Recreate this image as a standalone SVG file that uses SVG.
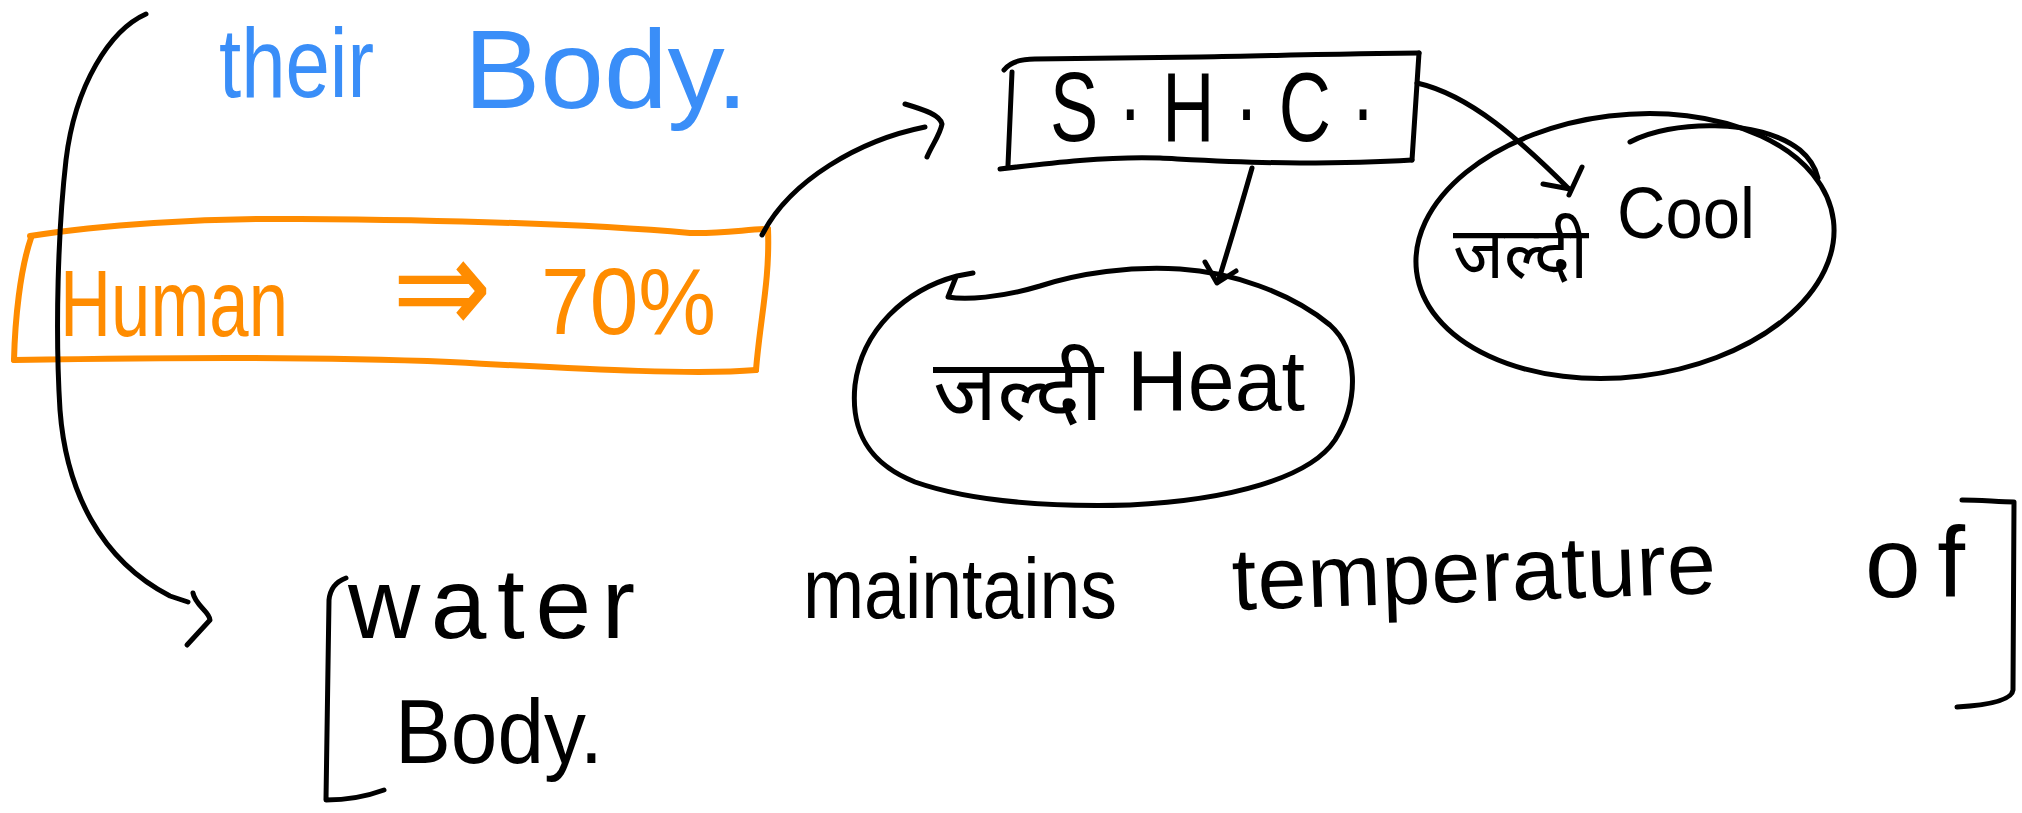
<svg xmlns="http://www.w3.org/2000/svg" width="2022" height="813" viewBox="0 0 2022 813">
  <style>
    .ink { fill: none; stroke: #000; stroke-width: 5; stroke-linecap: round; stroke-linejoin: round; }
    .ink-o { fill: none; stroke: #FF8C00; stroke-width: 6; stroke-linecap: round; stroke-linejoin: round; }
    .hand { font-family: "Liberation Sans", "Noto Sans", sans-serif; fill: #000; }
    .hand-o { font-family: "Liberation Sans", "DejaVu Sans", sans-serif; fill: #FF8C00; }
    .hand-b { font-family: "Liberation Sans", "Noto Sans", sans-serif; fill: #3A8EF8; }
    .deva { font-family: "Noto Sans Devanagari", "Noto Sans", sans-serif; fill: #000; }
  </style>
  <rect width="2022" height="813" fill="#fff"/>

  <!-- heading fragment -->
  <g id="caption">
    <text class="hand-b" x="219" y="97" font-size="98" textLength="155" lengthAdjust="spacingAndGlyphs">their</text>
    <text class="hand-b" x="464" y="108" font-size="112" textLength="284" lengthAdjust="spacingAndGlyphs">Body.</text>
  </g>

  <!-- orange highlight box -->
  <g id="human">
    <path class="ink-o" d="M30,236 C100,225 200,218 300,219 C450,220 600,225 690,233 C720,234 750,229 768,229"/>
    <path class="ink-o" d="M768,229 C770,280 760,320 756,370"/>
    <path class="ink-o" d="M756,370 C700,375 600,370 450,362 C300,356 150,358 14,360"/>
    <path class="ink-o" d="M14,360 C15,320 20,270 31,238"/>
    <text class="hand-o" x="60" y="336" font-size="95" textLength="228" lengthAdjust="spacingAndGlyphs">Human</text>
    <text class="hand-o" x="392" y="335" font-size="140" textLength="100" lengthAdjust="spacingAndGlyphs">⇒</text>
    <text class="hand-o" x="541" y="334" font-size="95" textLength="175" lengthAdjust="spacingAndGlyphs">70%</text>
  </g>

  <!-- specific heat capacity box -->
  <g id="shc">
    <path class="ink" d="M1004,70 C1010,62 1020,59 1035,59 L1200,57 C1300,55 1380,53 1419,53"/>
    <path class="ink" d="M1419,53 L1412,160"/>
    <path class="ink" d="M1412,160 C1380,162 1340,163 1300,163 C1250,163 1200,160 1160,158 C1110,156 1050,163 1000,169"/>
    <path class="ink" d="M1012,72 L1008,165"/>
    <text class="hand" x="1050" y="141" font-size="98" textLength="325" lengthAdjust="spacingAndGlyphs">S · H · C ·</text>
  </g>

  <!-- heat blob -->
  <g id="heat">
    <path class="ink" d="M973,273 L957,276 C905,290 862,330 855,385 C850,435 872,465 915,482 C975,503 1060,507 1130,505 C1230,500 1310,478 1335,440 C1360,400 1358,350 1330,325 C1290,292 1230,272 1180,269 C1130,266 1080,273 1040,286 C1000,298 965,300 948,297 L956,277"/>
    <text class="deva" x="933" y="420" font-size="85" textLength="170" lengthAdjust="spacingAndGlyphs">जल्दी</text>
    <text class="hand" x="1127" y="410" font-size="85" textLength="178" lengthAdjust="spacingAndGlyphs">Heat</text>
  </g>

  <!-- cool blob -->
  <g id="cool">
    <ellipse class="ink" cx="1625" cy="246" rx="210" ry="131" transform="rotate(-7 1625 246)"/>
    <path class="ink" d="M1630,142 C1670,120 1760,118 1800,150 C1812,160 1816,170 1818,178"/>
    <text class="deva" x="1453" y="278" font-size="72" textLength="135" lengthAdjust="spacingAndGlyphs">जल्दी</text>
    <text class="hand" x="1617" y="238" font-size="72" textLength="138" lengthAdjust="spacingAndGlyphs">Cool</text>
  </g>

  <!-- bracketed statement -->
  <g id="note">
    <path class="ink" d="M346,578 C335,582 330,590 329,600 L326,800 C345,800 365,797 384,790"/>
    <path class="ink" d="M1962,500 C1980,500 2000,502 2014,502 L2013,690 C2012,700 1990,705 1957,707"/>
    <text class="hand" x="348" y="638" font-size="100" textLength="287">water</text>
    <text class="hand" x="803" y="618" font-size="86" textLength="314" lengthAdjust="spacingAndGlyphs">maintains</text>
    <text class="hand" x="1233" y="610" font-size="88" textLength="484" transform="rotate(-2 1233 610)">temperature</text>
    <text class="hand" x="1865" y="597" font-size="100" textLength="100">of</text>
    <text class="hand" x="395" y="763" font-size="90" textLength="208" lengthAdjust="spacingAndGlyphs">Body.</text>
  </g>

  <!-- connectors -->
  <g id="connectors">
    <path class="ink" d="M146,14 C110,30 75,85 66,160 C58,230 55,330 60,410 C66,490 100,560 170,596 L188,602"/>
    <path class="ink" d="M193,593 C195,605 210,612 210,620 L187,645"/>
    <path class="ink" d="M762,235 C790,180 860,140 925,127"/>
    <path class="ink" d="M905,104 C925,110 940,115 942,124 C940,135 932,145 927,157"/>
    <path class="ink" d="M1252,168 C1240,210 1228,250 1218,282"/>
    <path class="ink" d="M1205,262 L1217,283 L1236,271"/>
    <path class="ink" d="M1417,83 C1470,95 1520,140 1570,190"/>
    <path class="ink" d="M1543,184 L1570,189 M1582,167 L1569,195"/>
  </g>
</svg>
